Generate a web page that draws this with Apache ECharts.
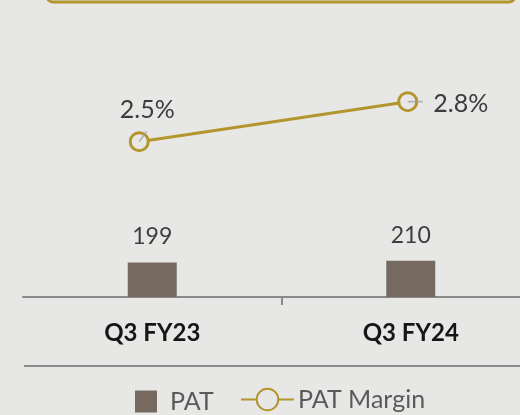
<!DOCTYPE html>
<html>
<head>
<meta charset="utf-8">
<script src="https://cdn.jsdelivr.net/npm/echarts@6/dist/echarts.min.js"></script>
<style>
html,body{margin:0;padding:0;background:#e7e7e6;}
#chart{width:520px;height:415px;}
</style>
</head>
<body>
<div id="chart"></div>
<script>
const categories = ['Q3 FY23', 'Q3 FY24'];
const patValues = [199, 210];
const marginValues = [2.5, 2.8];

const GOLD = '#b3962d';
const BG = '#e7e7e6';
const FONT = 'Lato';

// label placement for each line point (styling only)
const marginLabelCfg = [
  { position: 'top', offset: [8, -4] },
  { position: 'right', offset: [10, 2] }
];
const leaderCfg = [
  { rotate: 55, offset: [3.6, -5.2], len: 12.5 },
  { rotate: 0, offset: [7.5, 0], len: 15 }
];

const chart = echarts.init(document.getElementById('chart'), null, { renderer: 'canvas' });
chart.setOption({
  backgroundColor: BG,
  animation: false,
  graphic: [
    { type: 'rect', z: 0, shape: { x: 47, y: -40, width: 468, height: 42, r: 6 },
      style: { fill: 'none', stroke: GOLD, lineWidth: 3 } },
    { type: 'line', z: 0, shape: { x1: 24, y1: 366, x2: 520, y2: 366 },
      style: { stroke: '#8a8a8a', lineWidth: 2 } }
  ],
  legend: [
    { data: ['PAT'], left: 135, top: 389, padding: 0, itemWidth: 22, itemHeight: 22, icon: 'rect',
      textStyle: { fontFamily: FONT, fontSize: 25, color: '#5a5a5a', padding: [0, 0, 0, 8] } },
    { data: ['PAT Margin'], left: 240, top: 387, padding: 0, itemWidth: 53, itemHeight: 27,
      textStyle: { fontFamily: FONT, fontSize: 25, color: '#5a5a5a', padding: [0, 0, 0, -1] } }
  ],
  grid: [
    { left: 23, width: 517, top: 124, height: 173, outerBoundsMode: 'none', containLabel: false },
    { left: 5, width: 537, top: 75, height: 400, outerBoundsMode: 'none', containLabel: false },
    { left: 281.5, width: 1000, top: 124, height: 173, outerBoundsMode: 'none', containLabel: false }
  ],
  xAxis: [
    { type: 'category', gridIndex: 0, data: categories, boundaryGap: true,
      axisLine: { show: true, lineStyle: { color: '#8a8a8a', width: 2 } },
      axisTick: { show: false },
      axisLabel: { margin: 24, fontFamily: FONT, fontSize: 24, fontWeight: 'bold', color: '#161616' } },
    { type: 'category', gridIndex: 1, data: categories, boundaryGap: true, show: false },
    { type: 'value', gridIndex: 2, min: 0, max: 10, interval: 10,
      axisLine: { show: false }, axisLabel: { show: false }, splitLine: { show: false },
      axisTick: { show: true, length: 8, lineStyle: { color: '#8a8a8a', width: 2 } } }
  ],
  yAxis: [
    { type: 'value', gridIndex: 0, min: 0, max: 1000, show: false, splitLine: { show: false } },
    { type: 'value', gridIndex: 1, min: 0, max: 3, show: false, splitLine: { show: false } },
    { type: 'value', gridIndex: 2, min: 0, max: 1, show: false, splitLine: { show: false } }
  ],
  series: [
    { name: 'PAT', type: 'bar', xAxisIndex: 0, yAxisIndex: 0, data: patValues, barWidth: 49,
      itemStyle: { color: '#766a60' },
      label: { show: true, position: 'top', distance: 14, fontFamily: FONT, fontSize: 23, color: '#3d3d3d' } },
    { name: 'PAT Margin', type: 'line', xAxisIndex: 1, yAxisIndex: 1, z: 3,
      data: marginValues.map((v, i) => ({ value: v, label: marginLabelCfg[i] })),
      symbol: 'circle', symbolSize: 18,
      lineStyle: { color: GOLD, width: 3 },
      itemStyle: { color: BG, borderColor: GOLD, borderWidth: 3 },
      label: { show: true, fontFamily: FONT, fontSize: 25, color: '#3d3d3d',
        formatter: p => p.value.toFixed(1) + '%' } },
    { name: 'leader', type: 'scatter', xAxisIndex: 1, yAxisIndex: 1, z: 4, silent: true,
      data: marginValues.map((v, i) => ({ value: v, symbolRotate: leaderCfg[i].rotate,
        symbolOffset: leaderCfg[i].offset, symbolSize: [leaderCfg[i].len, 1.6] })),
      symbol: 'rect', itemStyle: { color: '#a3a3a3' } }
  ]
});
</script>
</body>
</html>
